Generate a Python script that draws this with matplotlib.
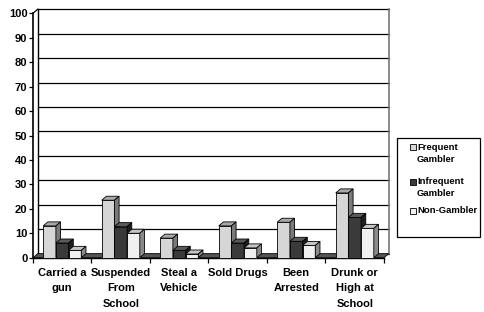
import matplotlib.pyplot as plt
from matplotlib.patches import Polygon, Rectangle
import numpy as np

plt.rcParams['font.family'] = ['Liberation Sans', 'DejaVu Sans']
plt.rcParams['font.weight'] = 'bold'

categories = ["Carried a\ngun", "Suspended\nFrom\nSchool", "Steal a\nVehicle",
              "Sold Drugs", "Been\nArrested", "Drunk or\nHigh at\nSchool"]
series = ["Frequent\nGambler", "Infrequent\nGambler", "Non-Gambler"]
frequent = [13, 23.5, 8, 13, 14.5, 26.5]
infrequent = [6, 12.7, 3, 6, 6.7, 16.5]
non_gambler = [3, 10, 1.5, 4, 5, 12]
values = [frequent, infrequent, non_gambler]

# (front, top, side) colours for each series
colors = [("#d6d6d6", "#a8a8a8", "#7a7a7a"),
          ("#3a3a3a", "#5a5a5a", "#1e1e1e"),
          ("#f0f0f0", "#c4c4c4", "#8a8a8a")]

W, H = 485, 312
fig = plt.figure(figsize=(4.85, 3.12), dpi=100)
ax = fig.add_axes([33 / W, (H - 257.7) / H, 351 / W, 244.4 / H])

n = len(categories)
w = 0.217        # bar width in category units
dx = 0.08        # depth offset (x, category units)
dy = 1.65        # depth offset (y, value units)

ax.set_xlim(0, n)
ax.set_ylim(0, 100)
for s in ax.spines.values():
    s.set_visible(False)

# back wall gridlines and walls
for v in range(0, 101, 10):
    ax.plot([dx, n + dx], [v + dy, v + dy], color="black", lw=0.9,
            clip_on=False, zorder=1)
ax.plot([dx, dx], [dy, 100 + dy], color="black", lw=1.0, clip_on=False, zorder=1)
ax.plot([n + dx, n + dx], [dy, 100 + dy], color="#777777", lw=1.2,
        clip_on=False, zorder=1)
ax.plot([0, dx], [100, 100 + dy], color="black", lw=0.9, clip_on=False, zorder=1)
ax.plot([0, 0], [0, 100], color="black", lw=1.2, clip_on=False, zorder=2)

# floor
ax.add_patch(Polygon([(0, 0), (n, 0), (n + dx, dy), (dx, dy)], closed=True,
                     facecolor="#555555", edgecolor="black", lw=0.6,
                     clip_on=False, zorder=2))
ax.plot([0, n], [0, 0], color="black", lw=1.0, clip_on=False, zorder=2)

# 3D-style bars
z = 3
for i in range(n):
    for j, vals in enumerate(values):
        v = vals[i]
        x0 = i + 0.5 - 1.5 * w + j * w
        front, top, side = colors[j]
        ax.bar(x0, v, width=w, align="edge", color=front, edgecolor="black",
               lw=0.6, zorder=z, clip_on=False)
        ax.add_patch(Polygon([(x0, v), (x0 + w, v), (x0 + w + dx, v + dy),
                              (x0 + dx, v + dy)], closed=True, facecolor=top,
                             edgecolor="black", lw=0.6, zorder=z, clip_on=False))
        ax.add_patch(Polygon([(x0 + w, 0), (x0 + w + dx, dy),
                              (x0 + w + dx, v + dy), (x0 + w, v)], closed=True,
                             facecolor=side, edgecolor="black", lw=0.6, zorder=z,
                             clip_on=False))
        z += 1

ax.set_yticks(range(0, 101, 10))
ax.tick_params(axis="y", length=3, width=0.9, pad=1, labelsize=8)
ax.set_xticks(np.arange(n + 1))
ax.set_xticklabels([])
ax.set_xticks(np.arange(n) + 0.5, minor=True)
ax.set_xticklabels(categories, minor=True, fontsize=8, linespacing=1.65)
ax.tick_params(axis="x", which="major", length=3.5, width=0.9)
ax.tick_params(axis="x", which="minor", length=0, pad=7.5)
for t in ax.get_yticklabels() + ax.get_xticklabels(minor=True):
    t.set_fontweight("bold")

# legend
def fx(px):
    return px / W


def fy(py):
    return (H - py) / H


fig.patches.append(Rectangle((fx(397), fy(237)), fx(480) - fx(397),
                             fy(138) - fy(237), transform=fig.transFigure,
                             facecolor="white", edgecolor="black", lw=0.9))
rows = [147.5, 182, 211]
for lab, py, (front, _, _) in zip(series, rows, colors):
    fig.patches.append(Rectangle((fx(410), fy(py + 3)), fx(6), 6 / H,
                                 transform=fig.transFigure, facecolor=front,
                                 edgecolor="black", lw=0.6))
    fig.text(fx(417), fy(py - 5), lab, fontsize=6.8, fontweight="bold",
             va="top", ha="left", linespacing=1.45,
             transform=fig.transFigure)

fig.savefig("out.png", dpi=100)
